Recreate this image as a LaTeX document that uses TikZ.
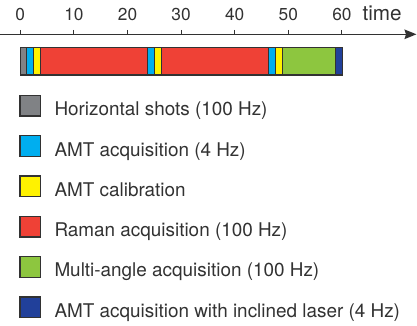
\documentclass[tikz,border=0pt]{standalone}
\usepackage{fontspec}
\setmainfont{TeX Gyre Heros}
\usetikzlibrary{arrows.meta}
\definecolor{cgray}{RGB}{128,130,133}
\definecolor{ccyan}{RGB}{0,174,239}
\definecolor{cyel}{RGB}{255,242,0}
\definecolor{cred}{RGB}{239,65,54}
\definecolor{cgreen}{RGB}{141,198,63}
\definecolor{cnavy}{RGB}{33,64,154}
\definecolor{cline}{RGB}{50,50,50}
\tikzset{
  seg/.style={draw=cline,line width=1.2pt},
  keybox/.style={draw=cline,line width=1.3pt,minimum size=20.5pt,inner sep=0pt},
  keytext/.style={anchor=base west,inner sep=0pt,font=\fontsize{18.9}{22}\selectfont}
}

\begin{document}
\begin{tikzpicture}[x=1pt,y=-1pt]
\useasboundingbox (0,0) rectangle (417,326);
\coordinate (A) at (0,34.3);
\coordinate (B) at (416.5,34.3);
\draw[cline,line width=1.3pt,-{Stealth[length=12pt,width=9.5pt,inset=1.5pt]}] (A)--(B);
\foreach \t in {0,10,...,60}
  {\draw[cline,line width=1.1pt] ({20.3+5.36*\t},30) coordinate (t\t)--({20.3+5.36*\t},34.3);
   \node[anchor=base,inner sep=0pt,font=\fontsize{17.3}{20}\selectfont,text=cline] (n\t) at ({20.3+5.36*\t},20.7) {\t};}
\node[anchor=base west,inner sep=0pt,font=\fontsize{20.7}{24}\selectfont,text=cline] (time) at (362.3,20.7) {time};
\begin{scope}[xshift=20.3pt,x=5.36pt]
\foreach \a/\b/\c in {0/1.2/cgray,1.2/2.4/ccyan,2.4/3.7/cyel,3.7/23.75/cred,23.75/25/ccyan,
  25/26.3/cyel,26.3/46.3/cred,46.3/47.6/ccyan,47.6/48.9/cyel,48.9/58.85/cgreen,58.85/60.15/cnavy}
  {\filldraw[seg,fill=\c] (\a,47.7) rectangle (\b,75);}
\draw[seg] (0,47.7) rectangle (60.15,75);
\end{scope}
\foreach \i/\c/\s in {0/cgray/Horizontal shots (100 Hz),1/ccyan/AMT acquisition (4 Hz),
  2/cyel/AMT calibration,3/cred/Raman acquisition (100 Hz),
  4/cgreen/Multi-angle acquisition (100 Hz),5/cnavy/AMT acquisition with inclined laser (4 Hz)}
  {\node[keybox,fill=\c] (key\i) at (30.2,{105.7+40.3*\i}) {};
   \node[keytext,text=cline] (lab\i) at (54.3,{115.7+40.3*\i}) {\s};}
\end{tikzpicture}
\end{document}
